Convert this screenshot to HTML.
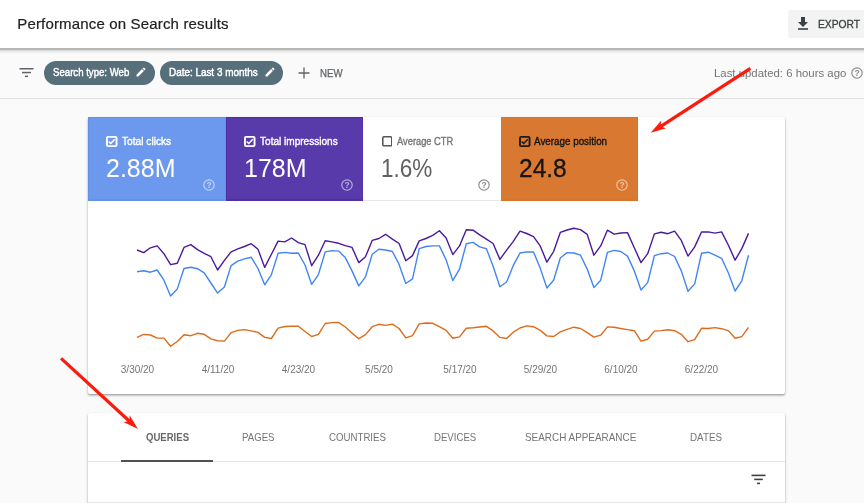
<!DOCTYPE html>
<html lang="en">
<head>
<meta charset="utf-8">
<title>Performance on Search results</title>
<style>
*{box-sizing:border-box;margin:0;padding:0}
html,body{width:864px;height:503px;overflow:hidden}
body{background:#fafafa;font-family:"Liberation Sans",Arial,sans-serif;position:relative;color:#202124}
.abs{position:absolute}
.sx{display:inline-block;transform-origin:0 50%;transform:scaleX(var(--s));white-space:nowrap}
#hdr{left:0;top:0;width:864px;height:48px;background:#fff;z-index:5}
#title{-webkit-text-stroke:.2px #202124;left:17.3px;top:13.5px;font-size:15px;line-height:20px;color:#202124;white-space:nowrap;letter-spacing:.16px}
#export{left:788px;top:10px;width:90px;height:27.5px;background:#f3f3f3;border-radius:3px}
#export span{-webkit-text-stroke:.3px #3c4043;position:absolute;left:30px;top:7px;font-size:10.5px;line-height:14px;color:#3c4043;white-space:nowrap}
#fbar{left:0;top:48px;width:864px;height:50.5px;border-bottom:1px solid #e0e0e0;background:#fafafa}
.chip{-webkit-text-stroke:.45px #fff;top:60.5px;height:24px;border-radius:12px;background:#576f7b;color:#fff;font-size:11px;line-height:23.5px;white-space:nowrap;padding-left:9px}
#new{-webkit-text-stroke:.25px #5f6368;left:319.5px;top:66px;font-size:10.5px;line-height:14px;color:#5f6368}
#upd{left:714px;top:65.5px;font-size:11.5px;line-height:15px;color:#757575;white-space:nowrap}
.card{background:#fff;box-shadow:0 1px 2px rgba(0,0,0,.3),0 2px 3px rgba(0,0,0,.14);border-radius:2px}
#c1{left:88px;top:117px;width:697px;height:277px}
#c2{left:88px;top:413px;width:697px;height:120px}
.tile{top:0;height:84px;width:138px}
.tile .lbl{-webkit-text-stroke:.38px currentColor;position:absolute;left:34px;top:17px;font-size:11.5px;line-height:14px;white-space:nowrap}
.tile .num{position:absolute;left:18px;top:35px;font-size:25px;line-height:32px;white-space:nowrap}
.tile svg.cb{position:absolute;left:18px;top:19px}
.tile svg.hp{position:absolute;left:115.2px;top:62.4px}
.dl{top:364.3px;width:60px;text-align:center;font-size:10px;line-height:12px;color:#757575}
.tab{top:430px;font-size:11.5px;line-height:14px;color:#757575;white-space:nowrap}
</style>
</head>
<body>
<div id="hdr" class="abs">
  <div id="title" class="abs">Performance on Search results</div>
  <div id="export" class="abs">
    <svg class="abs" style="left:9px;top:6px" width="12" height="15" viewBox="0 0 12 15"><path d="M4 1h4v5h3l-5 5-5-5h3z" fill="#3c4043"/><rect x="1" y="12.2" width="10" height="1.6" fill="#3c4043"/></svg>
    <span class="sx" style="--s:.98">EXPORT</span>
  </div>
</div>
<div id="fbar" class="abs"></div>
<div class="abs" style="left:0;top:48px;width:864px;height:8px;z-index:4;background:linear-gradient(to bottom,rgba(0,0,0,.29) 0,rgba(0,0,0,.26) 1.6px,rgba(0,0,0,.12) 2.6px,rgba(0,0,0,.06) 3.6px,rgba(0,0,0,.025) 5px,rgba(0,0,0,0) 7px)"></div>
<svg class="abs" style="left:19px;top:67px" width="15" height="11" viewBox="0 0 15 11"><rect x="0.5" y="1" width="14" height="1.5" fill="#5f6368"/><rect x="3" y="4.8" width="9" height="1.5" fill="#5f6368"/><rect x="6" y="8.6" width="3" height="1.5" fill="#5f6368"/></svg>
<div class="chip abs" style="left:44.2px;width:110.5px"><span class="sx" style="--s:.875">Search type: Web</span>
  <svg class="abs" style="left:91px;top:5.5px" width="12" height="12" viewBox="0 0 24 24"><path d="M3 17.25V21h3.75L17.81 9.94l-3.75-3.75L3 17.25zM20.71 7.04a1 1 0 0 0 0-1.41l-2.34-2.34a1 1 0 0 0-1.41 0l-1.83 1.83 3.75 3.75 1.83-1.83z" fill="#fff"/></svg>
</div>
<div class="chip abs" style="left:160.3px;width:123px"><span class="sx" style="--s:.9">Date: Last 3 months</span>
  <svg class="abs" style="left:103.7px;top:5.5px" width="12" height="12" viewBox="0 0 24 24"><path d="M3 17.25V21h3.75L17.81 9.94l-3.75-3.75L3 17.25zM20.71 7.04a1 1 0 0 0 0-1.41l-2.34-2.34a1 1 0 0 0-1.41 0l-1.83 1.83 3.75 3.75 1.83-1.83z" fill="#fff"/></svg>
</div>
<svg class="abs" style="left:298px;top:67px" width="12" height="12" viewBox="0 0 12 12"><path d="M6 0.5v11M0.5 6h11" stroke="#5f6368" stroke-width="1.3" fill="none"/></svg>
<div id="new" class="abs"><span class="sx" style="--s:.92">NEW</span></div>
<div id="upd" class="abs"><span class="sx" style="--s:.99">Last updated: 6 hours ago</span></div>
<svg class="abs" style="left:850.5px;top:66.5px" width="12" height="12" viewBox="0 0 12 12"><circle cx="6" cy="6" r="5.2" fill="none" stroke="#8a8a8a" stroke-width="1.15"/><text x="6" y="8.9" font-size="8.5" font-weight="bold" font-family="Liberation Sans, sans-serif" text-anchor="middle" fill="#8a8a8a">?</text></svg>

<div id="c1" class="card abs">
  <div class="tile abs" style="left:0;background:#6c99ed;color:#fff;box-shadow:inset 0 0 0 1px #6390ea,inset 0 -1.5px 0 #568cef">
    <svg class="cb" width="11.5" height="11" viewBox="0 0 12 12" preserveAspectRatio="none"><rect x="1" y="1" width="10" height="10" rx="1.2" fill="none" stroke="#fff" stroke-width="2"/><path d="M2.8 6.1l2.1 2.1 4.3-4.6" fill="none" stroke="#fff" stroke-width="1.6"/></svg>
    <div class="lbl"><span class="sx" style="--s:0.885">Total clicks</span></div>
    <div class="num"><span class="sx" style="--s:1.0">2.88M</span></div>
    <svg class="hp" width="12" height="12" viewBox="0 0 12 12"><circle cx="6" cy="6" r="5.2" fill="none" stroke="#c3d5f8" stroke-width="1.15"/><text x="6" y="8.9" font-size="8.5" font-weight="bold" font-family="Liberation Sans, sans-serif" text-anchor="middle" fill="#c3d5f8">?</text></svg>
  </div>
  <div class="tile abs" style="left:138px;width:137px;background:#583aaa;color:#fff;box-shadow:inset 0 0 0 1px #5030a6,inset 0 -1.5px 0 #4a26a2">
    <svg class="cb" width="11.5" height="11" viewBox="0 0 12 12" preserveAspectRatio="none"><rect x="1" y="1" width="10" height="10" rx="1.2" fill="none" stroke="#fff" stroke-width="2"/><path d="M2.8 6.1l2.1 2.1 4.3-4.6" fill="none" stroke="#fff" stroke-width="1.6"/></svg>
    <div class="lbl"><span class="sx" style="--s:0.875">Total impressions</span></div>
    <div class="num"><span class="sx" style="--s:1.0">178M</span></div>
    <svg class="hp" width="12" height="12" viewBox="0 0 12 12"><circle cx="6" cy="6" r="5.2" fill="none" stroke="#b9aedd" stroke-width="1.15"/><text x="6" y="8.9" font-size="8.5" font-weight="bold" font-family="Liberation Sans, sans-serif" text-anchor="middle" fill="#b9aedd">?</text></svg>
  </div>
  <div class="tile abs" style="left:275px;background:#fff;color:#757575;border-bottom:1px solid #e8e8e8">
    <svg class="cb" style="left:18.7px;top:19px" width="10.6" height="10.6" viewBox="0 0 12 12"><rect x="0.9" y="0.9" width="10.2" height="10.2" rx="1.3" fill="none" stroke="#54575b" stroke-width="1.8"/></svg>
    <div class="lbl"><span class="sx" style="--s:0.81">Average CTR</span></div>
    <div class="num" style="color:#616161;left:18px"><span class="sx" style="--s:0.9">1.6%</span></div>
    <svg class="hp" width="12" height="12" viewBox="0 0 12 12"><circle cx="6" cy="6" r="5.2" fill="none" stroke="#8a8a8a" stroke-width="1.15"/><text x="6" y="8.9" font-size="8.5" font-weight="bold" font-family="Liberation Sans, sans-serif" text-anchor="middle" fill="#8a8a8a">?</text></svg>
  </div>
  <div class="tile abs" style="left:413px;width:137px;background:#d97830;color:#141414;box-shadow:inset 0 0 0 1px #dc7426,inset 0 -1.5px 0 #e07018">
    <svg class="cb" width="11.5" height="11" viewBox="0 0 12 12" preserveAspectRatio="none"><rect x="1" y="1" width="10" height="10" rx="1.2" fill="none" stroke="#1b1b1b" stroke-width="2"/><path d="M2.8 6.1l2.1 2.1 4.3-4.6" fill="none" stroke="#1b1b1b" stroke-width="1.6"/></svg>
    <div class="lbl" style="left:33.4px"><span class="sx" style="--s:0.855">Average position</span></div>
    <div class="num" style="-webkit-text-stroke:.3px #141414"><span class="sx" style="--s:0.98">24.8</span></div>
    <svg class="hp" width="12" height="12" viewBox="0 0 12 12"><circle cx="6" cy="6" r="5.2" fill="none" stroke="#efc4a3" stroke-width="1.15"/><text x="6" y="8.9" font-size="8.5" font-weight="bold" font-family="Liberation Sans, sans-serif" text-anchor="middle" fill="#efc4a3">?</text></svg>
  </div>
</div>

<svg class="abs" style="left:0;top:0;z-index:3" width="864" height="503" viewBox="0 0 864 503">
  <polyline points="137.0,271.7 143.7,270.7 150.4,272.2 157.2,270.0 163.9,280.2 170.6,295.9 177.3,288.9 184.0,268.5 190.8,267.2 197.5,268.7 204.2,272.8 210.9,283.0 217.6,293.1 224.4,287.0 231.1,265.6 237.8,261.1 244.5,258.9 251.2,257.2 258.0,268.5 264.7,284.8 271.4,274.6 278.1,253.3 284.8,252.4 291.6,253.3 298.3,253.0 305.0,265.0 311.7,284.4 318.4,274.6 325.2,251.9 331.9,250.6 338.6,251.1 345.3,257.6 352.0,270.9 358.8,285.9 365.5,276.9 372.2,254.3 378.9,249.3 385.6,250.0 392.4,251.5 399.1,264.4 405.8,283.5 412.5,278.9 419.2,248.7 426.0,246.5 432.7,245.9 439.4,245.9 446.1,259.8 452.8,280.6 459.5,269.1 466.3,243.7 473.0,242.4 479.7,246.9 486.4,248.7 493.1,266.3 499.9,286.7 506.6,282.0 513.3,265.4 520.0,253.0 526.7,251.9 533.5,252.0 540.2,268.1 546.9,288.0 553.6,280.2 560.3,258.0 567.1,252.6 573.8,253.0 580.5,255.2 587.2,269.1 593.9,287.6 600.7,280.2 607.4,252.4 614.1,250.4 620.8,251.5 627.5,256.1 634.3,270.9 641.0,290.0 647.7,282.6 654.4,255.6 661.1,253.7 667.9,253.0 674.6,256.5 681.3,270.9 688.0,291.3 694.7,283.9 701.5,253.3 708.2,252.2 714.9,255.2 721.6,258.3 728.3,272.8 735.1,291.0 741.8,280.8 748.5,255.2" fill="none" stroke="#4285f4" stroke-width="1.4" stroke-linejoin="round"/>
  <polyline points="137.0,250.0 143.7,252.6 150.4,247.8 157.2,245.9 163.9,253.7 170.6,264.6 177.3,263.3 184.0,247.4 190.8,244.6 197.5,249.6 204.2,253.3 210.9,256.7 217.6,270.0 224.4,260.4 231.1,251.9 237.8,248.9 244.5,246.5 251.2,243.7 258.0,249.3 264.7,267.4 271.4,254.3 278.1,241.1 284.8,241.9 291.6,238.0 298.3,242.6 305.0,244.6 311.7,265.7 318.4,255.2 325.2,240.7 331.9,241.9 338.6,243.3 345.3,245.6 352.0,247.4 358.8,262.6 365.5,256.7 372.2,240.4 378.9,238.5 385.6,234.3 392.4,239.1 399.1,243.5 405.8,260.7 412.5,255.6 419.2,240.9 426.0,238.5 432.7,235.4 439.4,230.7 446.1,238.0 452.8,254.6 459.5,245.9 466.3,229.8 473.0,230.2 479.7,234.8 486.4,239.1 493.1,243.5 499.9,259.4 506.6,250.2 513.3,241.3 520.0,231.1 526.7,233.5 533.5,236.7 540.2,245.9 546.9,262.2 553.6,251.5 560.3,232.4 567.1,230.0 573.8,228.3 580.5,229.6 587.2,234.4 593.9,255.2 600.7,245.9 607.4,230.2 614.1,234.1 620.8,233.0 627.5,232.6 634.3,247.8 641.0,262.6 647.7,253.7 654.4,233.9 661.1,232.2 667.9,233.7 674.6,231.1 681.3,240.4 688.0,256.1 694.7,246.9 701.5,232.0 708.2,231.9 714.9,233.1 721.6,231.9 728.3,245.0 735.1,260.2 741.8,248.6 748.5,233.4" fill="none" stroke="#4a1a9c" stroke-width="1.4" stroke-linejoin="round"/>
  <polyline points="137.0,337.4 143.7,334.4 150.4,335.0 157.2,338.1 163.9,338.1 170.6,346.3 177.3,341.5 184.0,334.8 190.8,335.7 197.5,333.3 204.2,334.3 210.9,338.9 217.6,340.7 224.4,341.1 231.1,332.6 237.8,330.4 244.5,329.6 251.2,330.9 258.0,332.4 264.7,337.4 271.4,338.5 278.1,328.1 284.8,326.5 291.6,326.3 298.3,326.3 305.0,331.5 311.7,336.5 318.4,334.4 325.2,323.5 331.9,322.6 338.6,322.4 345.3,327.0 352.0,333.1 358.8,338.7 365.5,334.6 372.2,326.7 378.9,324.3 385.6,325.4 392.4,324.1 399.1,328.5 405.8,337.8 412.5,335.6 419.2,323.9 426.0,323.0 432.7,323.3 439.4,326.7 446.1,330.4 452.8,338.3 459.5,336.9 466.3,328.3 473.0,327.8 479.7,327.0 486.4,326.3 493.1,330.9 499.9,337.4 506.6,338.5 513.3,332.2 520.0,328.0 526.7,325.9 533.5,326.7 540.2,330.4 546.9,335.9 553.6,336.5 560.3,331.9 567.1,329.4 573.8,327.2 580.5,328.5 587.2,332.6 593.9,337.2 600.7,335.2 607.4,326.9 614.1,327.2 620.8,328.5 627.5,329.6 634.3,330.7 641.0,341.1 647.7,339.3 654.4,331.1 661.1,330.6 667.9,329.8 674.6,330.7 681.3,334.3 688.0,341.7 694.7,339.6 701.5,328.3 708.2,328.5 714.9,327.6 721.6,328.7 728.3,330.6 735.1,338.3 741.8,336.6 748.5,327.3" fill="none" stroke="#dd6b1c" stroke-width="1.4" stroke-linejoin="round"/>
</svg>

<div class="dl abs" style="left:107.5px">3/30/20</div>
<div class="dl abs" style="left:188px">4/11/20</div>
<div class="dl abs" style="left:268.5px">4/23/20</div>
<div class="dl abs" style="left:349px">5/5/20</div>
<div class="dl abs" style="left:430px">5/17/20</div>
<div class="dl abs" style="left:510.5px">5/29/20</div>
<div class="dl abs" style="left:591px">6/10/20</div>
<div class="dl abs" style="left:671.5px">6/22/20</div>

<div id="c2" class="card abs">
  <div class="abs" style="left:0;top:48px;width:697px;height:1px;background:#e4e4e4"></div>
  <div class="abs" style="left:33px;top:46.5px;width:91.5px;height:2px;background:#515151"></div>
  <div class="abs" style="left:0;top:88.5px;width:697px;height:1px;background:#e4e4e4"></div>
  <svg class="abs" style="left:663px;top:60.5px" width="15" height="11" viewBox="0 0 15 11"><rect x="0.5" y="0.6" width="14" height="1.6" fill="#3c4043"/><rect x="3.2" y="4.6" width="8.6" height="1.6" fill="#3c4043"/><rect x="6" y="8.6" width="3" height="1.6" fill="#3c4043"/></svg>
</div>
<div class="tab abs" style="left:145.5px;font-weight:bold;color:#686868"><span class="sx" style="--s:0.831">QUERIES</span></div>
<div class="tab abs" style="left:242px"><span class="sx" style="--s:0.838">PAGES</span></div>
<div class="tab abs" style="left:328.5px"><span class="sx" style="--s:0.841">COUNTRIES</span></div>
<div class="tab abs" style="left:434px"><span class="sx" style="--s:0.836">DEVICES</span></div>
<div class="tab abs" style="left:525px"><span class="sx" style="--s:0.862">SEARCH APPEARANCE</span></div>
<div class="tab abs" style="left:690px"><span class="sx" style="--s:0.853">DATES</span></div>

<svg class="abs" style="left:0;top:0;z-index:9" width="864" height="503" viewBox="0 0 864 503">
  <g stroke="#fb1a0c" fill="#fb1a0c" stroke-linecap="butt">
    <line x1="750.4" y1="68.4" x2="660.4" y2="126.6" stroke-width="3.2"/><polygon points="650.7,132.8 661.3,120.6 660.4,126.6 666.2,128.2" stroke="none"/>
    <line x1="61.1" y1="358.4" x2="129.5" y2="421.3" stroke-width="3.2"/><polygon points="138.0,429.1 123.5,421.9 129.5,421.3 129.6,415.3" stroke="none"/>
  </g>
</svg>
</body>
</html>
